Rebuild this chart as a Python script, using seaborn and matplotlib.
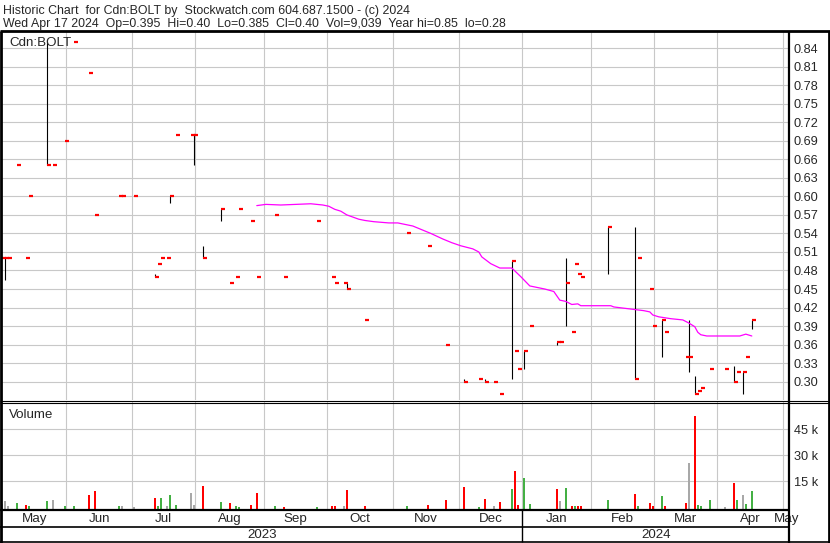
import numpy as np
import pandas as pd
import seaborn as sns
import matplotlib.pyplot as plt
from matplotlib.lines import Line2D

# daily bars, only days with trades
dates = ['2023-05-02', '2023-05-03', '2023-05-04', '2023-05-09', '2023-05-12', '2023-05-15',
         '2023-05-23', '2023-05-25', '2023-05-31', '2023-06-05', '2023-06-12', '2023-06-14',
         '2023-06-26', '2023-06-27', '2023-07-03', '2023-07-12', '2023-07-13', '2023-07-14',
         '2023-07-18', '2023-07-19', '2023-07-21', '2023-07-28', '2023-07-31', '2023-08-03',
         '2023-08-11', '2023-08-16', '2023-08-18', '2023-08-21', '2023-08-25', '2023-08-29',
         '2023-09-06', '2023-09-11', '2023-09-26', '2023-10-03', '2023-10-04', '2023-10-09',
         '2023-10-10', '2023-10-18', '2023-11-07', '2023-11-16', '2023-11-24', '2023-12-04',
         '2023-12-11', '2023-12-13', '2023-12-18', '2023-12-20', '2023-12-26', '2023-12-27',
         '2023-12-28', '2024-01-01', '2024-01-03', '2024-01-16', '2024-01-17', '2024-01-19',
         '2024-01-23', '2024-01-24', '2024-01-25', '2024-01-26', '2024-02-08', '2024-02-21',
         '2024-02-22', '2024-02-28', '2024-02-29', '2024-03-05', '2024-03-06', '2024-03-15',
         '2024-03-18', '2024-03-20', '2024-03-21', '2024-03-22', '2024-03-27', '2024-04-03',
         '2024-04-08', '2024-04-09', '2024-04-11', '2024-04-12', '2024-04-16']
high = [0.50, 0.50, 0.50, 0.65, 0.50, 0.60,
        0.85, 0.65, 0.69, 0.85, 0.80, 0.57,
        0.60, 0.60, 0.60, 0.475, 0.49, 0.50,
        0.50, 0.60, 0.70, 0.70, 0.70, 0.52,
        0.58, 0.46, 0.47, 0.58, 0.56, 0.47,
        0.57, 0.47, 0.56, 0.47, 0.46, 0.46,
        0.46, 0.40, 0.54, 0.52, 0.36, 0.305,
        0.305, 0.305, 0.30, 0.28, 0.495, 0.35,
        0.32, 0.35, 0.39, 0.365, 0.365, 0.50,
        0.38, 0.49, 0.475, 0.47, 0.55, 0.55,
        0.50, 0.45, 0.39, 0.40, 0.38, 0.34,
        0.40, 0.31, 0.285, 0.29, 0.32, 0.32,
        0.325, 0.315, 0.315, 0.34, 0.40]
low = [0.50, 0.465, 0.50, 0.65, 0.50, 0.60,
       0.65, 0.65, 0.69, 0.85, 0.80, 0.57,
       0.60, 0.60, 0.60, 0.47, 0.49, 0.50,
       0.50, 0.59, 0.70, 0.70, 0.65, 0.50,
       0.56, 0.46, 0.47, 0.58, 0.56, 0.47,
       0.57, 0.47, 0.56, 0.47, 0.46, 0.46,
       0.45, 0.40, 0.54, 0.52, 0.36, 0.30,
       0.305, 0.30, 0.30, 0.28, 0.305, 0.35,
       0.32, 0.32, 0.39, 0.36, 0.365, 0.39,
       0.38, 0.49, 0.475, 0.47, 0.475, 0.305,
       0.50, 0.45, 0.39, 0.34, 0.38, 0.34,
       0.315, 0.28, 0.285, 0.29, 0.32, 0.32,
       0.30, 0.315, 0.28, 0.34, 0.385]
close = [0.50, 0.50, 0.50, 0.65, 0.50, 0.60,
         0.65, 0.65, 0.69, 0.85, 0.80, 0.57,
         0.60, 0.60, 0.60, 0.47, 0.49, 0.50,
         0.50, 0.60, 0.70, 0.70, 0.70, 0.50,
         0.58, 0.46, 0.47, 0.58, 0.56, 0.47,
         0.57, 0.47, 0.56, 0.47, 0.46, 0.46,
         0.45, 0.40, 0.54, 0.52, 0.36, 0.30,
         0.305, 0.30, 0.30, 0.28, 0.495, 0.35,
         0.32, 0.35, 0.39, 0.365, 0.365, 0.46,
         0.38, 0.49, 0.475, 0.47, 0.55, 0.305,
         0.50, 0.45, 0.39, 0.40, 0.38, 0.34,
         0.34, 0.28, 0.285, 0.29, 0.32, 0.32,
         0.30, 0.315, 0.315, 0.34, 0.40]
volume = [1700, 3500, 300, 2300, 1200, 300,
          3500, 4000, 300, 300, 6900, 9200,
          300, 600, 200, 5200, 300, 5200,
          600, 6900, 1200, 8100, 1200, 12100,
          2900, 2300, 600, 200, 1200, 8100,
          300, 200, 200, 600, 600, 300,
          9800, 600, 300, 1200, 4000, 11500,
          200, 4600, 300, 2900, 10400, 20800,
          1200, 16700, 1700, 10400, 3500, 11000,
          300, 300, 300, 300, 4000, 7500,
          300, 2300, 300, 6300, 300, 2300,
          25400, 52500, 1200, 600, 4000, 200,
          13800, 4000, 6900, 1700, 9039]

# moving average line
ma_dates = ['2023-08-29', '2023-09-01', '2023-09-08', '2023-09-15', '2023-09-22', '2023-09-28',
            '2023-10-02', '2023-10-04', '2023-10-06', '2023-10-10', '2023-10-16', '2023-10-18',
            '2023-10-23', '2023-10-30', '2023-11-02', '2023-11-09', '2023-11-14', '2023-11-17',
            '2023-11-23', '2023-11-28', '2023-12-01', '2023-12-07', '2023-12-11', '2023-12-12',
            '2023-12-15', '2023-12-20', '2023-12-26', '2023-12-29', '2024-01-03', '2024-01-10',
            '2024-01-15', '2024-01-16', '2024-01-17', '2024-01-19', '2024-01-23', '2024-01-25',
            '2024-01-26', '2024-02-09', '2024-02-12', '2024-02-19', '2024-02-26', '2024-02-28',
            '2024-02-29', '2024-03-04', '2024-03-08', '2024-03-14', '2024-03-18', '2024-03-20',
            '2024-03-21', '2024-03-22', '2024-03-26', '2024-04-10', '2024-04-12', '2024-04-16']
ma_values = [0.585, 0.587, 0.586, 0.587, 0.588, 0.586,
             0.584, 0.579, 0.576, 0.570, 0.563, 0.561,
             0.559, 0.557, 0.557, 0.552, 0.546, 0.540,
             0.531, 0.525, 0.520, 0.515, 0.510, 0.502,
             0.491, 0.484, 0.484, 0.470, 0.455, 0.450,
             0.446, 0.439, 0.432, 0.430, 0.425, 0.426,
             0.423, 0.423, 0.421, 0.418, 0.415, 0.413,
             0.408, 0.405, 0.402, 0.400, 0.395, 0.389,
             0.380, 0.376, 0.374, 0.374, 0.377, 0.374]

price_ticks = [0.30, 0.33, 0.36, 0.39, 0.42, 0.45, 0.48, 0.51, 0.54, 0.57,
               0.60, 0.63, 0.66, 0.69, 0.72, 0.75, 0.78, 0.81, 0.84]
vol_ticks = [15000, 30000, 45000]
vol_labels = ['15 k', '30 k', '45 k']
month_labels = ['May', 'Jun', 'Jul', 'Aug', 'Sep', 'Oct', 'Nov', 'Dec',
                'Jan', 'Feb', 'Mar', 'Apr', 'May']
year_labels = ['2023', '2024']
title1 = 'Historic Chart  for Cdn:BOLT by  Stockwatch.com 604.687.1500 - (c) 2024'
title2 = ('Wed Apr 17 2024  Op=0.395  Hi=0.40  Lo=0.385  Cl=0.40  Vol=9,039  '
          'Year hi=0.85  lo=0.28')

sns.set_style('white')
plt.rcParams['font.family'] = ['Liberation Sans', 'DejaVu Sans']
plt.rcParams['font.size'] = 9.2

W, H = 830, 543
fig = plt.figure(figsize=(W / 100, H / 100), dpi=100)


def box(x0, y0, x1, y1):
    return [x0 / W, 1 - y1 / H, (x1 - x0) / W, (y1 - y0) / H]


def fline(xs, ys, lw):
    fig.add_artist(Line2D([x / W for x in xs], [1 - y / H for y in ys],
                          color='black', lw=lw, solid_capstyle='butt'))


# x axis = weekday count since the start
start = '2023-05-01'
pos = np.busday_count(start, dates)
ma_pos = np.busday_count(start, ma_dates)
high, low, close, volume = map(np.array, (high, low, close, volume))
month_starts = pd.date_range('2023-05-01', '2024-05-01', freq='MS').strftime('%Y-%m-%d').tolist()
edges = np.busday_count(start, month_starts) - 0.5
xlim = (1.07, 263.4)
grid_kw = dict(color='#C8C8C8', lw=0.8)

# price panel
ax = fig.add_axes(box(2, 32, 789, 400))
ax.set_axisbelow(True)
rng = high > low
ax.vlines(pos[rng], low[rng], high[rng], color='black', lw=0.8)
ax.hlines(close, pos, pos + 1.33, color='red', lw=1.6)
sns.lineplot(x=ma_pos, y=ma_values, ax=ax, color='#FF00FF', lw=0.9, sort=False)
ax.set_xlim(xlim)
ax.set_ylim(0.2704, 0.866)
ax.set_xticks(edges[1:])
ax.set_yticks(price_ticks)
ax.set_yticklabels([f'{t:.2f}' for t in price_ticks])
ax.yaxis.tick_right()
ax.tick_params(axis='y', length=0, pad=3.6, labelsize=9.2)
ax.tick_params(axis='x', length=0, labelbottom=False)
ax.grid(True, **grid_kw)
ax.set_xlabel('')
ax.set_ylabel('')
for s in ax.spines.values():
    s.set_visible(False)
ax.text(7 / 787, 1 - 14.3 / 368, 'Cdn:BOLT', transform=ax.transAxes, va='baseline', fontsize=9.6)

# volume panel
vmin = -1730
chg = np.sign(np.diff(close, prepend=close[0]))
vcol = np.where(chg > 0, '#44B044', np.where(chg < 0, '#FF0000', '#A8A8A8'))
axv = fig.add_axes(box(2, 402, 789, 510))
axv.set_axisbelow(True)
axv.bar(pos, volume - vmin, bottom=vmin, width=0.67, color=vcol, linewidth=0)
axv.set_xlim(xlim)
axv.set_ylim(vmin, 60580)
axv.set_xticks(edges[1:])
axv.set_yticks(vol_ticks)
axv.set_yticklabels(vol_labels)
axv.yaxis.tick_right()
axv.tick_params(axis='y', length=0, pad=3.6, labelsize=9.2)
axv.tick_params(axis='x', length=0, labelbottom=False)
axv.grid(True, **grid_kw)
for s in axv.spines.values():
    s.set_visible(False)
axv.text(7 / 787, 1 - 16 / 108, 'Volume', transform=axv.transAxes, va='baseline', fontsize=9.6)

# month band
edge_ext = np.clip(np.append(edges, xlim[1]), xlim[0], xlim[1])
centers = (edge_ext[:-1] + edge_ext[1:]) / 2
axm = fig.add_axes(box(2, 510, 789, 527))
axm.set_xlim(xlim)
axm.set_ylim(0, 1)
axm.axis('off')
for c, lab in zip(centers, month_labels):
    axm.text(c, 0.31, lab, ha='center', va='baseline', fontsize=9.6, clip_on=False)

# year band
jan = edges[month_labels.index('Jan')]
axy = fig.add_axes(box(2, 527, 789, 542))
axy.set_xlim(xlim)
axy.set_ylim(0, 1)
axy.axis('off')
axy.text((xlim[0] + jan) / 2, 0.27, year_labels[0], ha='center', va='baseline', fontsize=9.6)
axy.text((jan + xlim[1]) / 2, 0.27, year_labels[1], ha='center', va='baseline', fontsize=9.6)

# header
fig.text(3 / W, 1 - 14 / H, title1, va='baseline', fontsize=8.9)
fig.text(3 / W, 1 - 26.5 / H, title2, va='baseline', fontsize=8.9)

# frame lines
jan_px = 2 + (jan - xlim[0]) * 787 / (xlim[1] - xlim[0])
fline([0, W], [31, 31], 2.0)
fline([0, W], [400.5, 400.5], 0.8)
fline([0, W], [402.5, 402.5], 0.8)
fline([0, 789], [510, 510], 1.6)
fline([0, 789], [527, 527], 1.2)
fline([0, W], [542, 542], 1.2)
fline([1, 1], [31, 543], 2.0)
fline([789, 789], [31, 543], 1.6)
fline([828.5, 828.5], [31, 543], 2.0)
fline([jan_px, jan_px], [510, 542], 1.0)

fig.savefig('out.png', dpi=100)
